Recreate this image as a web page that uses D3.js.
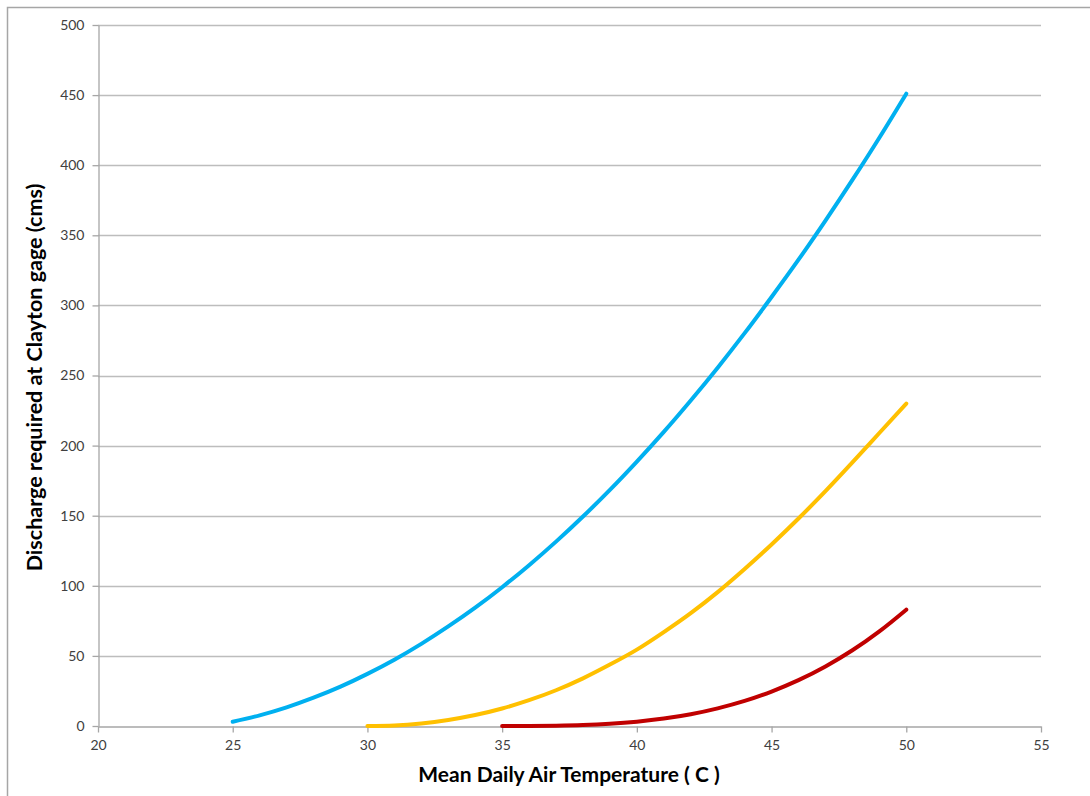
<!DOCTYPE html>
<html>
<head>
<meta charset="utf-8">
<script src="https://cdn.jsdelivr.net/npm/d3@7/dist/d3.min.js"></script>
<style>
  html, body { margin: 0; padding: 0; background: #ffffff; }
  svg { display: block; }
  text { font-family: Lato, "Open Sans", "Liberation Sans", sans-serif; }
</style>
</head>
<body>
<svg id="chart" width="1090" height="796"></svg>
<script>
// Temperature (°C) for each curve
const tempsBlue   = [25,26,27,28,29,30,31,32,33,34,35,36,37,38,39,40,41,42,43,44,45,46,47,48,49,50];
const tempsYellow = [30,31,32,33,34,35,36,37,38,39,40,41,42,43,44,45,46,47,48,49,50];
const tempsRed    = [35,36,37,38,39,40,41,42,43,44,45,46,47,48,49,50];

// Discharge required at Clayton gage (cms)
const dischargeBlue   = [3, 7.6, 13.3, 20.2, 28.1, 37.2, 47.3, 58.6, 71.0, 84.4, 99.0, 114.7, 131.5, 149.4,
                         168.4, 188.6, 209.8, 232.2, 255.6, 280.2, 306.0, 332.6, 360.5, 389.5, 419.6, 451];
const dischargeYellow = [0, 0.4, 1.8, 4.3, 7.8, 12.5, 18.4, 25.5, 34.0, 43.8, 54.5, 67.0, 80.5, 95.5,
                         112.0, 129.5, 148.0, 167.5, 188.0, 209.0, 230];
const dischargeRed    = [0, 0.03, 0.2, 0.66, 1.6, 3.1, 5.3, 8.4, 12.6, 17.9, 24.6, 32.7, 42.5, 54.0, 67.5, 83];

const seriesColors = ["#00b0f0", "#ffc000", "#c00000"];

// Axis ticks
const xTicks = [20, 25, 30, 35, 40, 45, 50, 55];
const yTicks = [0, 50, 100, 150, 200, 250, 300, 350, 400, 450, 500];

const xTitle = "Mean Daily Air Temperature ( C )";
const yTitle = "Discharge required at Clayton gage (cms)";

const svg = d3.select("#chart");
const W = 1090, H = 796;
const plot = { left: 98, right: 1041, top: 25, bottom: 726 };

// outer chart frame
svg.append("rect")
  .attr("x", 7.5).attr("y", 7.5)
  .attr("width", W + 20).attr("height", H + 20)
  .attr("fill", "#ffffff")
  .attr("stroke", "#a6a6a6").attr("stroke-width", 1.5);

const x = d3.scaleLinear().domain([20, 55]).range([plot.left, plot.right]);
const y = d3.scaleLinear().domain([0, 500]).range([plot.bottom, plot.top]);

// horizontal gridlines
svg.append("g")
  .selectAll("line")
  .data(yTicks.filter(d => d > 0))
  .join("line")
  .attr("x1", plot.left).attr("x2", plot.right)
  .attr("y1", d => Math.round(y(d)) + 0.5).attr("y2", d => Math.round(y(d)) + 0.5)
  .attr("stroke", "#bdbdbd").attr("stroke-width", 1.3);

// y axis
const yAxis = svg.append("g")
  .attr("transform", `translate(${plot.left + 0.5},0)`)
  .call(d3.axisLeft(y).tickValues(yTicks).tickSize(6).tickSizeOuter(0).tickPadding(8));
yAxis.select(".domain").attr("stroke", "#a6a6a6").attr("stroke-width", 1.3);
yAxis.selectAll(".tick line").attr("stroke", "#a6a6a6").attr("stroke-width", 1.3);
yAxis.selectAll(".tick text")
  .attr("fill", "#404040").style("font-size", "14px")
  .style("font-family", "Lato, 'Open Sans', sans-serif");

// x axis
const xAxis = svg.append("g")
  .attr("transform", `translate(0,${plot.bottom + 0.5})`)
  .call(d3.axisBottom(x).tickValues(xTicks).tickSize(6).tickSizeOuter(0).tickPadding(8));
xAxis.select(".domain").attr("stroke", "#a6a6a6").attr("stroke-width", 1.3);
xAxis.selectAll(".tick line").attr("stroke", "#a6a6a6").attr("stroke-width", 1.3);
xAxis.selectAll(".tick text")
  .attr("fill", "#404040").style("font-size", "14px")
  .style("font-family", "Lato, 'Open Sans', sans-serif");

// curves
const line = d3.line()
  .x(d => x(d[0]))
  .y(d => y(d[1]))
  .curve(d3.curveMonotoneX);

const series = [
  { t: tempsBlue,   v: dischargeBlue,   color: seriesColors[0] },
  { t: tempsYellow, v: dischargeYellow, color: seriesColors[1] },
  { t: tempsRed,    v: dischargeRed,    color: seriesColors[2] }
];

svg.append("g")
  .selectAll("path")
  .data(series)
  .join("path")
  .attr("d", s => line(s.t.map((t, i) => [t, s.v[i]])))
  .attr("fill", "none")
  .attr("stroke", s => s.color)
  .attr("stroke-width", 4)
  .attr("stroke-linecap", "round")
  .attr("stroke-linejoin", "round");

// axis titles
svg.append("text")
  .attr("x", 569)
  .attr("y", 782)
  .attr("text-anchor", "middle")
  .attr("fill", "#000000")
  .style("font-size", "21px")
  .style("font-weight", "bold")
  .text(xTitle);

svg.append("text")
  .attr("transform", `translate(42,${(plot.top + plot.bottom) / 2 + 2}) rotate(-90)`)
  .attr("text-anchor", "middle")
  .attr("fill", "#000000")
  .style("font-size", "21.5px")
  .style("font-weight", "bold")
  .text(yTitle);
</script>
</body>
</html>
